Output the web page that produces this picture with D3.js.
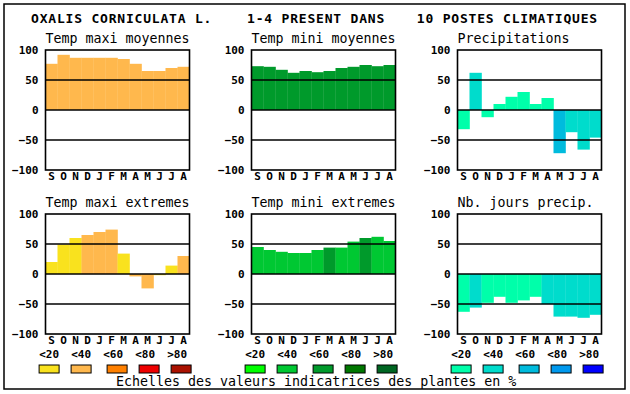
<!DOCTYPE html>
<html>
<head>
<meta charset="utf-8">
<script src="https://cdn.jsdelivr.net/npm/d3@7"></script>
<style>
  body { margin:0; background:#fff; }
  svg text { font-family:"DejaVu Sans Mono", "Liberation Mono", monospace; fill:#000; }
  .tick-lab text { font-weight:bold; font-size:11px; }
  .month text { font-weight:bold; font-size:11px; }
  .ptitle { font-size:13.3px; }
  .title { font-size:13px; font-weight:bold; letter-spacing:0.8px; }
  .leglab { font-size:11px; font-weight:bold; }
</style>
</head>
<body>
<div id="chart"></div>
<script>
// months, september -> august
var months = ["S","O","N","D","J","F","M","A","M","J","J","A"];
var yTicks = [-100,-50,0,50,100];
var legendLabels = ["<20","<40","<60","<80",">80"];

// colour scales (classes 0..4)
var warm  = ["#f9e21e","#ffb84d","#ff8000","#ee0000","#aa1100"];
var green = ["#00ff00","#00c832","#009a2b","#007700","#006622"];
var blue  = ["#00ffaa","#00dccc","#00bbdd","#0099ee","#0000ff"];

// series values + class of each bar
var tmaxMoy = [77,92,87,87,87,87,85,77,65,65,70,72];
var tmaxMoyCls = [1,1,1,1,1,1,1,1,1,1,1,1];
var tminMoy = [73,72,67,62,65,63,65,70,72,75,73,75];
var tminMoyCls = [2,2,2,2,2,2,2,2,2,2,2,2];
var precip = [-32,62,-12,10,22,30,10,20,-72,-37,-66,-46];
var precipCls = [0,1,0,0,0,0,0,0,2,1,1,1];
var tmaxExt = [20,49,60,65,70,74,34,-4,-24,-2,14,30];
var tmaxExtCls = [0,0,0,1,1,1,0,1,1,0,0,1];
var tminExt = [45,40,37,35,35,40,44,44,54,60,62,55];
var tminExtCls = [1,1,1,1,1,1,2,1,1,2,1,1];
var nbJours = [-63,-56,-48,-38,-48,-44,-38,-50,-71,-71,-73,-68];
var nbJoursCls = [0,1,0,0,0,0,0,1,1,1,1,1];

var width = 630, height = 394;

var svg = d3.select("#chart").append("svg")
  .attr("width", width).attr("height", height);

// outer frame
svg.append("rect")
  .attr("x",4).attr("y",4).attr("width",621).attr("height",385)
  .attr("fill","none").attr("stroke","#000").attr("stroke-width",1.5);

// main title
svg.append("text").attr("class","title").attr("x",31).attr("y",23).text("OXALIS CORNICULATA L.");
svg.append("text").attr("class","title").attr("x",247).attr("y",23).text("1-4 PRESENT DANS");
svg.append("text").attr("class","title").attr("x",598).attr("y",23).attr("text-anchor","end").text("10 POSTES CLIMATIQUES");

var panels = [
  {title:"Temp maxi moyennes", vals:tmaxMoy, cls:tmaxMoyCls, pal:warm,  left:45.5,  top:50},
  {title:"Temp mini moyennes", vals:tminMoy, cls:tminMoyCls, pal:green, left:251.5, top:50},
  {title:"Precipitations",     vals:precip,  cls:precipCls,  pal:blue,  left:457.5, top:50},
  {title:"Temp maxi extremes", vals:tmaxExt, cls:tmaxExtCls, pal:warm,  left:45.5,  top:214},
  {title:"Temp mini extremes", vals:tminExt, cls:tminExtCls, pal:green, left:251.5, top:214},
  {title:"Nb. jours precip.",  vals:nbJours, cls:nbJoursCls, pal:blue,  left:457.5, top:214}
];

panels.forEach(function(p){
  var x = d3.scaleBand().domain(d3.range(12)).range([p.left, p.left+144]).padding(0);
  var y = d3.scaleLinear().domain([-100,100]).range([p.top+120, p.top]);
  var g = svg.append("g");

  g.append("text").attr("class","ptitle")
   .attr("x", p.left).attr("y", p.top-7.3).text(p.title);

  // bars
  g.selectAll("rect.bar").data(p.vals).enter().append("rect")
   .attr("class","bar")
   .attr("x", function(d,i){ return x(i); })
   .attr("width", x.bandwidth()+0.3)
   .attr("y", function(d){ return y(Math.max(0,d)); })
   .attr("height", function(d){ return Math.abs(y(d)-y(0)); })
   .attr("fill", function(d,i){ return p.pal[p.cls[i]]; });

  // grid lines at 50, 0, -50
  g.selectAll("line.grid").data([50,0,-50]).enter().append("line")
   .attr("x1", p.left).attr("x2", p.left+144)
   .attr("y1", function(d){ return y(d); }).attr("y2", function(d){ return y(d); })
   .attr("stroke","#000").attr("stroke-width",1.6);

  // plot frame
  g.append("rect").attr("x",p.left).attr("y",p.top).attr("width",144).attr("height",120)
   .attr("fill","none").attr("stroke","#000").attr("stroke-width",1.6);

  // y axis labels
  var ya = g.append("g").attr("class","tick-lab")
    .attr("transform","translate("+(p.left-4)+",0)")
    .call(d3.axisLeft(y).tickValues(yTicks).tickSize(0).tickPadding(3));
  ya.select(".domain").remove();
  ya.selectAll("text").attr("dy","0.36em");

  // month labels
  var xa = g.append("g").attr("class","month")
    .attr("transform","translate(0,"+(p.top+120)+")")
    .call(d3.axisBottom(x).tickSize(0).tickPadding(2).tickFormat(function(i){ return months[i]; }));
  xa.select(".domain").remove();

  // legend
  var labOff = [3.6,35.6,67.6,99.6,131.6];
  var boxOff = [3.6,35.6,71.6,103.6,135.6];
  var legTop = p.top >= 200;
  if (legTop) {
    g.selectAll("text.leglab").data(legendLabels).enter().append("text")
     .attr("class","leglab").attr("text-anchor","middle")
     .attr("x", function(d,i){ return p.left+labOff[i]; })
     .attr("y", 358).text(function(d){ return d; });
    g.selectAll("rect.legbox").data(p.pal).enter().append("rect")
     .attr("class","legbox")
     .attr("x", function(d,i){ return p.left+boxOff[i]-10; })
     .attr("y", 365).attr("width",20).attr("height",8)
     .attr("fill", function(d){ return d; })
     .attr("stroke","#000").attr("stroke-width",1);
  }
});

svg.append("text").attr("class","ptitle")
  .attr("x",116).attr("y",386)
  .text("Echelles des valeurs indicatrices des plantes en %");
</script>
</body>
</html>
